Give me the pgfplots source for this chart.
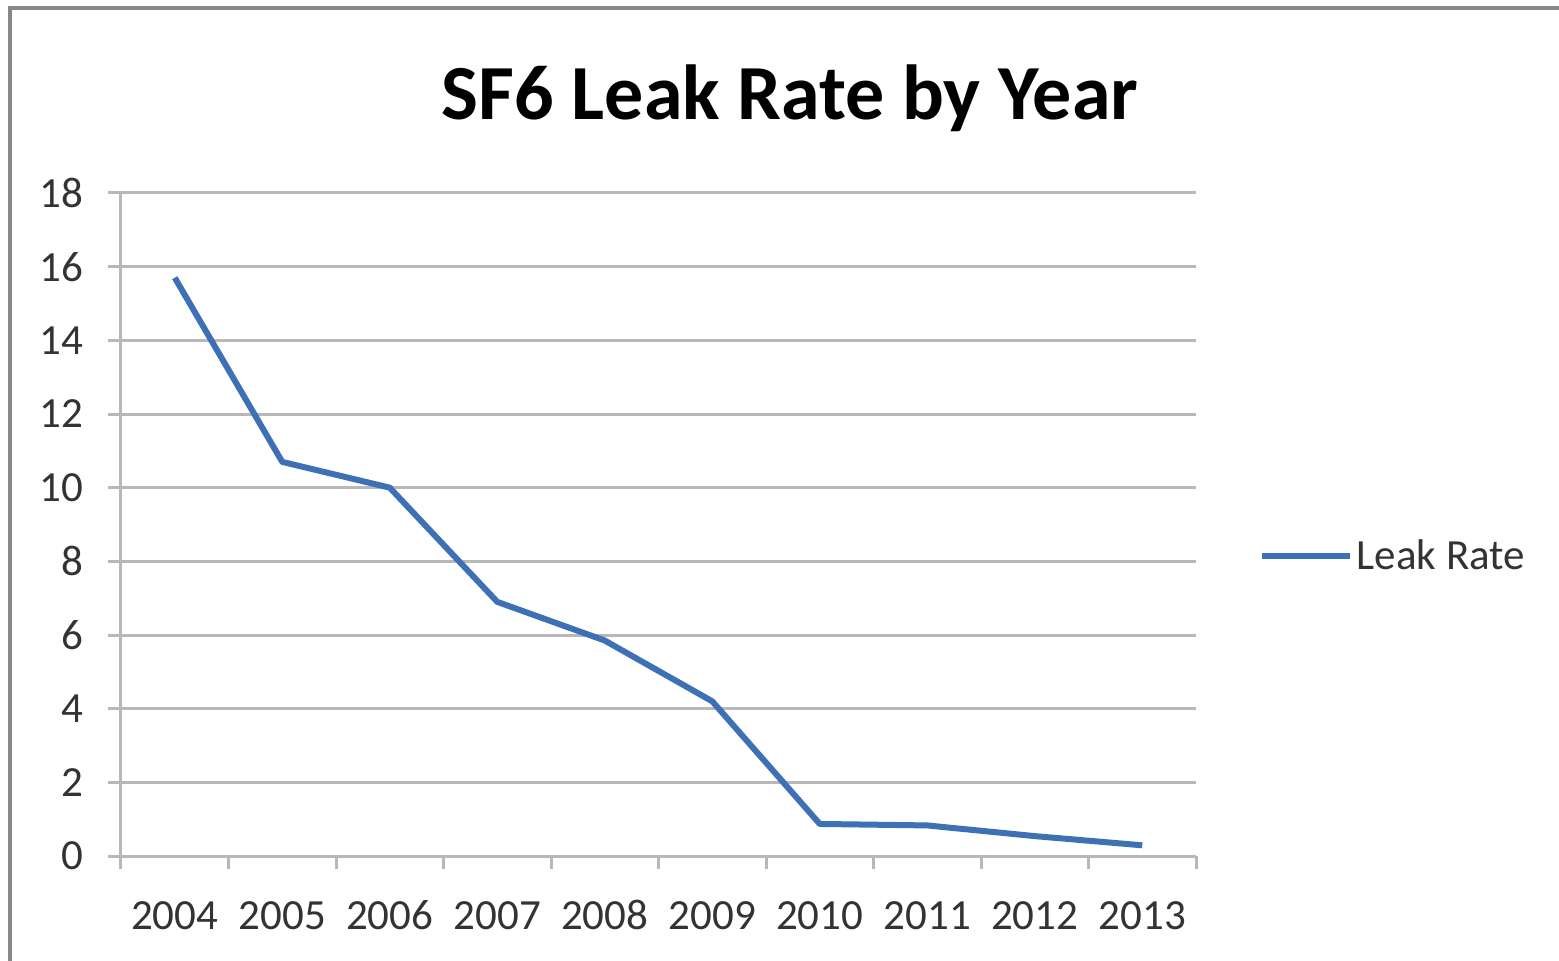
\documentclass[border=0pt]{standalone}
\usepackage{pgfplots}
\pgfplotsset{compat=1.18}
\usepackage{fontspec}
\setmainfont{Carlito}
\definecolor{lineblue}{RGB}{62,112,182}
\definecolor{gridgray}{RGB}{184,184,184}
\definecolor{framegray}{RGB}{136,136,136}
\begin{document}
\begin{tikzpicture}
\useasboundingbox (0,0) rectangle (779.5pt,480pt);
\draw[framegray, line width=1.6pt] (5pt,-2pt) -- (5pt,476pt) -- (782pt,476pt);
\node[font=\fontsize{39}{44}\selectfont\bfseries, anchor=base, text=black] at (395pt,420pt) {SF6 Leak Rate by Year};
\begin{axis}[
  at={(60.5pt,52pt)}, anchor=south west,
  scale only axis, width=537.5pt, height=331.5pt,
  xmin=-0.5, xmax=9.5, ymin=0, ymax=18,
  axis x line=bottom, axis y line=left,
  axis line style={gridgray, line width=1.5pt, -},
  xtick={0,1,2,3,4,5,6,7,8,9},
  xticklabels={2004,2005,2006,2007,2008,2009,2010,2011,2012,2013},
  ytick={0,2,...,18},
  tick align=outside, major tick length=6.5pt,
  xtick style={draw=none},
  ytick style={draw=gridgray, line width=1.5pt},
  extra x ticks={-0.5,0.5,...,9.5},
  extra x tick labels={},
  extra x tick style={xtick style={draw=gridgray, line width=1.5pt}},
  ymajorgrids=true,
  grid style={gridgray, line width=1.5pt},
  tick label style={font=\fontsize{21.5}{25}\selectfont, text=black!80},
  xticklabel style={anchor=base, yshift=-30pt},
  yticklabel style={xshift=-9pt},
  /pgf/number format/assume math mode=true,
  legend style={at={(1.058,0.4525)}, anchor=west, draw=none, fill=none, inner sep=0pt,
    font=\fontsize{21.5}{25}\selectfont, text=black!80},
  legend cell align=left,
  legend image code/.code={\draw[#1] (0pt,0pt) -- (44pt,0pt);},
  clip=false,
]
\addplot[lineblue, line width=3pt, line join=round] coordinates {
  (0,15.7) (1,10.7) (2,10.0) (3,6.9) (4,5.85) (5,4.2) (6,0.87) (7,0.83) (8,0.54) (9,0.29)
};
\addlegendentry{Leak Rate}
\end{axis}
\end{tikzpicture}
\end{document}
